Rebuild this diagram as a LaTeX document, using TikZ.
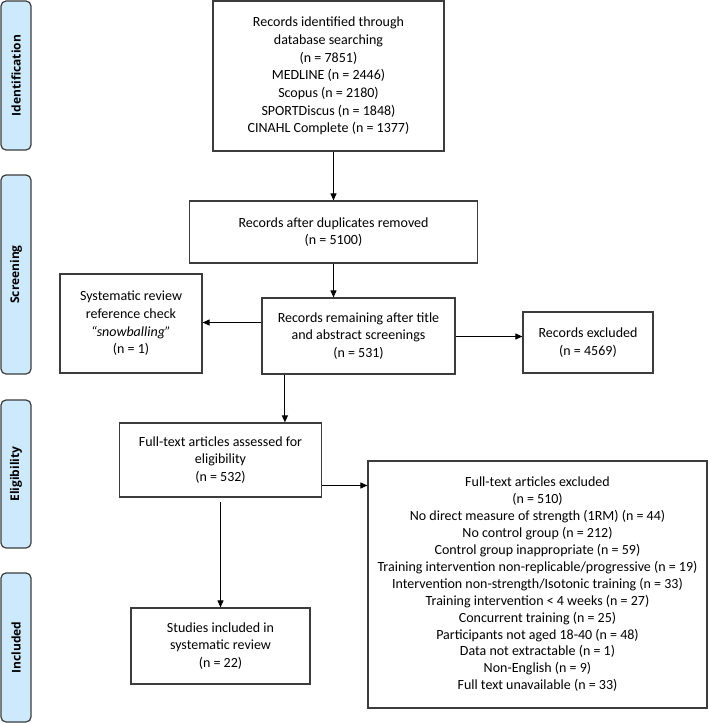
\documentclass[tikz,border=0pt]{standalone}
\usepackage{fontspec}
\setmainfont{Carlito}
\newfontfamily\sidefont{Open Sans}
\usetikzlibrary{arrows.meta,calc}
\definecolor{sidefill}{HTML}{CDE9FC}
\definecolor{boxline}{HTML}{3C3C3C}
\tikzset{
  box/.style={draw=boxline, line width=1.2pt, align=center, inner sep=0pt,
    font=\fontsize{14}{17.7}\selectfont, text=black},
  side/.style={draw=boxline, fill=sidefill, line width=1.2pt, rounded corners=5pt,
    rotate=90, minimum height=30pt, inner sep=0pt,
    font=\sidefont\bfseries\fontsize{12}{13}\selectfont},
  arr/.style={-{Triangle[length=7pt,width=6pt]}, line width=1pt, black}
}
\begin{document}
\begin{tikzpicture}[x=1pt,y=-1pt]
\useasboundingbox (0,0) rectangle (709,723);
% side bars
\node[side, minimum width=149pt] (sid) at (16,75.5) {Identification};
\node[side, minimum width=199pt] (sscr) at (16,274.5) {Screening};
\node[side, minimum width=148pt] (selig) at (16,474) {Eligibility};
\node[side, minimum width=149pt] (sinc) at (16,647.5) {Included};
% boxes
\node[box, minimum width=231pt, minimum height=150pt] (b1) at (328.5,76)
  {Records identified through\\database searching\\(n = 7851)\\MEDLINE (n = 2446)\\Scopus (n = 2180)\\SPORTDiscus (n = 1848)\\CINAHL Complete (n = 1377)};
\node[box, minimum width=288pt, minimum height=62pt] (b2) at (333.5,232)
  {Records after duplicates removed\\(n = 5100)};
\node[box, minimum width=193pt, minimum height=76pt] (b3) at (358.5,336)
  {Records remaining after title\\and abstract screenings\\(n = 531)};
\node[box, minimum width=142pt, minimum height=99pt] (snow) at (131,323.5)
  {Systematic review\\reference check\\\textit{“snowballing”}\\(n = 1)};
\node[box, minimum width=130pt, minimum height=61pt] (ex) at (588,342.5)
  {Records excluded\\(n = 4569)};
\node[box, minimum width=202pt, minimum height=74pt] (b4) at (220.5,460)
  {Full-text articles assessed for\\eligibility\\(n = 532)};
\node[box, minimum width=339pt, minimum height=247pt,
  font=\fontsize{14}{16.9}\selectfont] (big) at (537.5,584.5)
  {Full-text articles excluded\\(n = 510)\\No direct measure of strength (1RM) (n = 44)\\No control group (n = 212)\\Control group inappropriate (n = 59)\\Training intervention non-replicable/progressive (n = 19)\\Intervention non-strength/Isotonic training (n = 33)\\Training intervention < 4 weeks (n = 27)\\Concurrent training (n = 25)\\Participants not aged 18-40 (n = 48)\\Data not extractable (n = 1)\\Non-English (n = 9)\\Full text unavailable (n = 33)};
\node[box, minimum width=179pt, minimum height=76pt] (b5) at (220.5,646)
  {Studies included in\\systematic review\\(n = 22)};
% connectors
\draw[arr] (b1.south -| b2.north) -- (b2.north);
\draw[arr] (b2.south) -- (b2.south |- b3.north);
\coordinate (c0) at ($(b3.west)+(0,-13.5)$);
\draw[arr] (c0) -- (c0 -| snow.east);
\coordinate (c3) at ($(b3.east)+(0,0.5)$);
\draw[arr] (c3) -- (c3 -| ex.west);
\coordinate (c1) at ($(b3.south west)+(23.5,0)$);
\draw[arr] (c1) -- (c1 |- b4.north);
\coordinate (c2) at ($(b4.east)+(0,25.5)$);
\draw[arr] (c2) -- (c2 -| big.west);
\draw[arr] ($(b4.south)+(0,4)$) -- (b5.north);
\end{tikzpicture}
\end{document}
